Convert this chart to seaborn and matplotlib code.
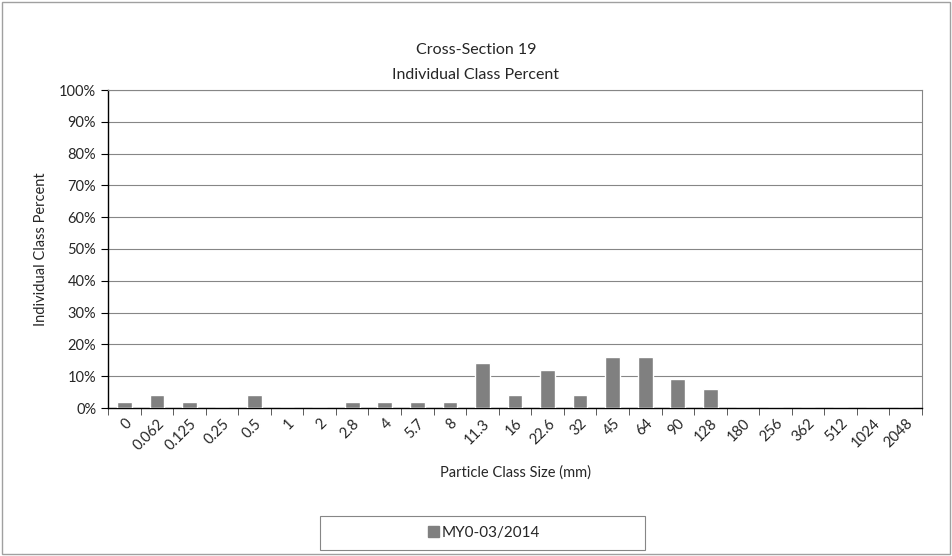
import matplotlib
matplotlib.use("Agg")
import matplotlib.pyplot as plt
import numpy as np
import pandas as pd
import seaborn as sns
from matplotlib.patches import Rectangle
from matplotlib.ticker import FixedLocator, PercentFormatter

# Particle size classes (mm) and individual class percent
sizes = ["0", "0.062", "0.125", "0.25", "0.5", "1", "2", "2.8", "4", "5.7",
         "8", "11.3", "16", "22.6", "32", "45", "64", "90", "128", "180",
         "256", "362", "512", "1024", "2048"]
percent = [2, 4, 2, 0, 4, 0, 0, 2, 2, 2,
           2, 14, 4, 12, 4, 16, 16, 9, 6, 0,
           0, 0, 0, 0, 0]
series_name = "MY0-03/2014"

df = pd.DataFrame({"size": sizes, "percent": percent})

sns.set_style("white")
plt.rcParams["font.family"] = ["Lato", "DejaVu Sans"]

W, H = 952, 556
fig = plt.figure(figsize=(W / 100, H / 100), dpi=100)
# plot area: x 108..922, y 90..408 (pixels)
ax = fig.add_axes([108 / W, (H - 408) / H, (922 - 108) / W, (408 - 90) / H])

sns.barplot(data=df, x="size", y="percent", order=sizes, color="#808080",
            saturation=1, width=0.45, ax=ax, zorder=3)

ax.set_ylim(0, 100)
ax.set_xlim(-0.5, len(sizes) - 0.5)
ax.yaxis.set_major_locator(FixedLocator(np.arange(0, 101, 10)))
ax.yaxis.set_major_formatter(PercentFormatter(decimals=0))
ax.grid(axis="y", color="#868686", linewidth=0.8, zorder=0)
ax.set_axisbelow(True)

for side in ["left", "bottom"]:
    ax.spines[side].set_color("black")
    ax.spines[side].set_linewidth(1.0)
for side in ["right", "top"]:
    ax.spines[side].set_color("#868686")
    ax.spines[side].set_linewidth(0.8)

# tick marks between categories on x
ax.set_xticks(np.arange(len(sizes)))
ax.set_xticklabels(sizes, rotation=45, ha="right", rotation_mode="anchor",
                   fontsize=10.5)
ax.tick_params(axis="x", length=0, pad=6)
ax.set_xticks(np.arange(-0.5, len(sizes)), minor=True)
ax.tick_params(axis="x", which="minor", length=5, direction="out",
               color="#404040", bottom=True)
ax.tick_params(axis="y", length=5, direction="out", color="black",
               left=True, labelsize=10.5)

ax.set_xlabel("Particle Class Size (mm)", fontsize=10.5)
ax.set_ylabel("Individual Class Percent", fontsize=10.5)
ax.xaxis.set_label_coords(0.5, -(465 - 408) / (408 - 90))
ax.yaxis.set_label_coords(-(108 - 48) / (922 - 108), 0.5)

fig.text(0.5, 1 - 50 / H, "Cross-Section 19", ha="center", va="center",
         fontsize=11.5)
fig.text(0.5, 1 - 75 / H, "Individual Class Percent", ha="center",
         va="center", fontsize=11.5)

# legend box at bottom (x 320..645, y 516..550)
fig.add_artist(Rectangle((320 / W, 1 - 550 / H), 325 / W, 34 / H,
                         transform=fig.transFigure, fill=False,
                         edgecolor="#868686", linewidth=0.8))
handle = Rectangle((0, 0), 1, 1, color="#808080")
leg = fig.legend([handle], [series_name], loc="center",
                 bbox_to_anchor=(484 / W, 1 - 533 / H), frameon=False,
                 fontsize=11, handlelength=0.75, handleheight=0.75,
                 handletextpad=0.15, borderpad=0.3)

# outer chart border
fig.add_artist(Rectangle((2 / W, 2 / H), (W - 4) / W, (H - 4) / H,
                         transform=fig.transFigure, fill=False,
                         edgecolor="#a0a0a0", linewidth=1.0))

fig.savefig("out.png", dpi=100)
